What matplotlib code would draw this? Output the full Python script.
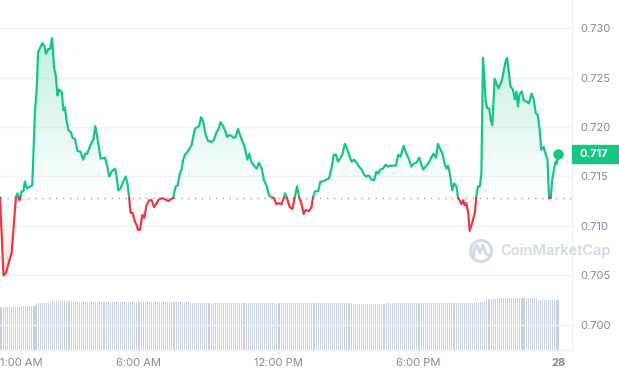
import matplotlib
matplotlib.use('Agg')
import matplotlib.pyplot as plt
import matplotlib.transforms as mtransforms
import numpy as np
from matplotlib.colors import to_rgb
from matplotlib.path import Path
from matplotlib.patches import Circle, Rectangle, PathPatch

plt.rcParams['font.family'] = ['Inter', 'DejaVu Sans']

# price, minutes since midnight
minutes = [5, 14, 20, 35, 46, 50, 55, 61, 65, 69, 74, 88, 95, 99, 103, 114, 119, 123, 129, 134,
           139, 144, 148, 153, 157, 164, 168, 172, 176, 181, 187, 192, 198, 204, 212, 219, 224, 229, 236, 241,
           245, 250, 255, 264, 275, 281, 286, 292, 301, 305, 309, 315, 322, 328, 333, 337, 341, 346, 352, 356,
           360, 365, 371, 376, 382, 389, 395, 401, 408, 414, 423, 429, 438, 444, 450, 457, 462, 468, 472, 476,
           481, 489, 498, 506, 512, 517, 522, 528, 534, 540, 549, 555, 562, 567, 572, 579, 586, 589, 594, 601,
           606, 611, 617, 624, 630, 635, 641, 646, 651, 658, 665, 671, 678, 684, 690, 697, 703, 710, 716, 723,
           729, 735, 738, 743, 750, 757, 763, 769, 774, 780, 786, 791, 800, 806, 810, 815, 823, 829, 836, 845,
           851, 858, 863, 869, 874, 881, 886, 892, 896, 903, 909, 915, 922, 928, 935, 941, 947, 954, 960, 967,
           973, 978, 983, 990, 997, 1003, 1009, 1016, 1023, 1029, 1035, 1043, 1050, 1056, 1063, 1069, 1076, 1083, 1089, 1093,
           1102, 1108, 1115, 1120, 1126, 1131, 1138, 1143, 1149, 1153, 1157, 1162, 1168, 1173, 1179, 1183, 1187, 1192, 1196, 1200,
           1204, 1209, 1213, 1220, 1226, 1230, 1234, 1239, 1243, 1247, 1250, 1254, 1258, 1263, 1267, 1271, 1277, 1282, 1287, 1292,
           1296, 1300, 1305, 1309, 1314, 1318, 1324, 1329, 1333, 1337, 1341, 1347, 1352, 1359, 1365, 1372, 1377, 1383, 1388, 1393,
           1397, 1403, 1408, 1413, 1417, 1421, 1425, 1430, 1434, 1437, 1441]
price = [0.7129, 0.7050, 0.7052, 0.7073, 0.7129, 0.7133, 0.7126, 0.7135, 0.7135, 0.7145,
         0.7138, 0.7141, 0.7217, 0.7236, 0.7276, 0.7285, 0.7282, 0.7274, 0.7279, 0.7279,
         0.7290, 0.7260, 0.7253, 0.7232, 0.7238, 0.7235, 0.7217, 0.7220, 0.7207, 0.7197,
         0.7195, 0.7189, 0.7188, 0.7176, 0.7175, 0.7167, 0.7173, 0.7173, 0.7180, 0.7185,
         0.7187, 0.7201, 0.7190, 0.7168, 0.7169, 0.7160, 0.7150, 0.7155, 0.7158, 0.7150,
         0.7136, 0.7138, 0.7145, 0.7150, 0.7143, 0.7129, 0.7113, 0.7113, 0.7104, 0.7101,
         0.7096, 0.7096, 0.7111, 0.7108, 0.7121, 0.7126, 0.7126, 0.7119, 0.7123, 0.7127,
         0.7128, 0.7127, 0.7125, 0.7127, 0.7128, 0.7140, 0.7141, 0.7154, 0.7157, 0.7167,
         0.7172, 0.7176, 0.7182, 0.7198, 0.7200, 0.7201, 0.7210, 0.7205, 0.7192, 0.7186,
         0.7185, 0.7187, 0.7195, 0.7198, 0.7205, 0.7201, 0.7194, 0.7190, 0.7192, 0.7191,
         0.7189, 0.7190, 0.7198, 0.7190, 0.7184, 0.7179, 0.7167, 0.7173, 0.7165, 0.7161,
         0.7158, 0.7164, 0.7158, 0.7146, 0.7141, 0.7131, 0.7129, 0.7128, 0.7122, 0.7123,
         0.7122, 0.7128, 0.7133, 0.7128, 0.7119, 0.7117, 0.7129, 0.7140, 0.7129, 0.7123,
         0.7112, 0.7116, 0.7115, 0.7119, 0.7129, 0.7135, 0.7135, 0.7145, 0.7145, 0.7147,
         0.7148, 0.7159, 0.7172, 0.7172, 0.7165, 0.7169, 0.7173, 0.7183, 0.7180, 0.7172,
         0.7165, 0.7167, 0.7164, 0.7160, 0.7157, 0.7152, 0.7150, 0.7151, 0.7147, 0.7146,
         0.7155, 0.7153, 0.7157, 0.7158, 0.7162, 0.7160, 0.7161, 0.7161, 0.7161, 0.7172,
         0.7170, 0.7181, 0.7173, 0.7168, 0.7160, 0.7163, 0.7164, 0.7169, 0.7162, 0.7157,
         0.7161, 0.7164, 0.7170, 0.7173, 0.7169, 0.7183, 0.7177, 0.7173, 0.7162, 0.7158,
         0.7161, 0.7153, 0.7136, 0.7143, 0.7140, 0.7128, 0.7126, 0.7122, 0.7126, 0.7121,
         0.7123, 0.7113, 0.7095, 0.7104, 0.7113, 0.7130, 0.7140, 0.7140, 0.7153, 0.7270,
         0.7254, 0.7226, 0.7219, 0.7219, 0.7207, 0.7202, 0.7249, 0.7244, 0.7239, 0.7244,
         0.7248, 0.7256, 0.7266, 0.7270, 0.7254, 0.7241, 0.7238, 0.7228, 0.7236, 0.7221,
         0.7233, 0.7236, 0.7227, 0.7226, 0.7224, 0.7234, 0.7229, 0.7214, 0.7212, 0.7197,
         0.7177, 0.7180, 0.7173, 0.7167, 0.7128, 0.7128, 0.7146, 0.7158, 0.7165, 0.7163,
         0.7173]
base_price = 0.71285   # opening price (dotted line)
last_label = '0.717'

# volume bars every 5 min (USD millions, flat plateaus)
vol_minutes = np.arange(5, 1441, 5)
volume = ([173] * 11 + [177] * 8 + [189] * 8 + [195] * 12 + [191] * 59 + [187] * 62 +
          [188] * 22 + [184] * 17 + [188] * 18 + [187] * 15 + [189] * 13 + [192] * 5 +
          [204] * 6 + [208] * 21 + [201] * 4 + [200] * 7)

tick_minutes = [60, 360, 720, 1080, 1440]
tick_labels = ['1:00 AM', '6:00 AM', '12:00 PM', '6:00 PM', '28']
price_ticks = [0.700, 0.705, 0.710, 0.715, 0.720, 0.725, 0.730]

GREEN = '#16c784'
RED = '#ea3943'
GREY = '#808a9d'
GRID = '#eff2f5'
W, H = 619, 376

fig = plt.figure(figsize=(W / 100, H / 100), dpi=100)
ax = fig.add_axes([0, 1 - 350 / H, 572 / W, 350 / H])
xlim = (5, 1476)
ylim = (0.69744, 0.73286)

# volume on its own scale at the bottom
axv = ax.twinx()
axv.bar(vol_minutes, volume, width=2.6, color='#c9d1e1', linewidth=0, zorder=1)
axv.set_ylim(0, 1400)
axv.set_yticks([])
for s in axv.spines.values():
    s.set_visible(False)

# insert points where the line crosses the opening price
t = np.array(minutes, float)
p = np.array(price)
tt, pp = [t[0]], [p[0]]
for i in range(1, len(t)):
    a, b = p[i - 1] - base_price, p[i] - base_price
    if a * b < 0:
        f = a / (a - b)
        tt.append(t[i - 1] + f * (t[i] - t[i - 1]))
        pp.append(base_price)
    tt.append(t[i])
    pp.append(p[i])
tt = np.array(tt)
pp = np.array(pp)

# gradient fills clipped to the area between line and base
def gradient_fill(mask, color, y0, y1, a0, a1):
    poly = ax.fill_between(tt, pp, base_price, where=mask, interpolate=True,
                           color='none', linewidth=0)
    path = Path.make_compound_path(*poly.get_paths())
    g = np.zeros((256, 1, 4))
    g[..., :3] = to_rgb(color)
    g[:, 0, 3] = np.linspace(a1, a0, 256)
    im = ax.imshow(g, extent=[xlim[0], xlim[1], y0, y1], aspect='auto',
                   origin='upper', zorder=1, interpolation='bilinear')
    im.set_clip_path(path, ax.transData)

gradient_fill(pp >= base_price, GREEN, base_price, 0.7300, 0.0, 0.28)
gradient_fill(pp <= base_price, RED, 0.7040, base_price, 0.16, 0.0)

green = np.ma.masked_where(pp < base_price, pp)
red = np.ma.masked_where(pp > base_price, pp)
ax.plot(tt, green, color=GREEN, lw=1.6, zorder=4, solid_capstyle='round', solid_joinstyle='round')
ax.plot(tt, red, color=RED, lw=1.6, zorder=4, solid_capstyle='round', solid_joinstyle='round')
ax.plot([minutes[-1]], [price[-1]], 'o', color=GREEN, ms=6.5, zorder=5)

ax.axhline(base_price, color='#9aa1b0', lw=1, linestyle=(0, (1, 4)), zorder=3)

ax.set_xlim(*xlim)
ax.set_ylim(*ylim)
ax.set_zorder(axv.get_zorder() + 1)
ax.patch.set_visible(False)

ax.set_yticks(price_ticks)
ax.set_yticklabels(['%.3f' % v for v in price_ticks])
ax.yaxis.tick_right()
ax.tick_params(axis='y', length=0, pad=6, labelsize=8, labelcolor=GREY)
ax.grid(axis='y', color=GRID, lw=1, zorder=0)
ax.set_axisbelow(True)

ax.set_xticks(tick_minutes)
ax.set_xticklabels(tick_labels)
ax.tick_params(axis='x', length=3, width=1, color='#e3e6ec', pad=3, labelsize=8, labelcolor=GREY)
ax.get_xticklabels()[-1].set_fontweight('bold')

for side in ['left', 'top']:
    ax.spines[side].set_visible(False)
for side in ['right', 'bottom']:
    ax.spines[side].set_color(GRID)
    ax.spines[side].set_linewidth(1)

# current price tag
blend = mtransforms.blended_transform_factory(ax.transAxes, ax.transData)
tag_h = 18 / 9880
ax.add_patch(Rectangle((1.0, price[-1] - tag_h / 2 - 0.00007), 50 / 572, tag_h, transform=blend,
                       color=GREEN, clip_on=False, zorder=6))
ax.text(1.0 + 8 / 572, price[-1] - 0.00007, last_label, transform=blend, color='white',
        fontsize=8, fontweight='bold', va='center', ha='left', zorder=7, clip_on=False)

# watermark
pix = mtransforms.Affine2D().scale(1 / W, -1 / H).translate(0, 1) + fig.transFigure
wm = '#d3d9e5'
fig.patches.append(Circle((481, 251), 10.5, transform=pix, fill=False, ec=wm, lw=2.2, zorder=8))
logo = Path([(474, 256), (474, 250), (477, 245), (480, 253), (483, 245), (486, 254), (489, 255)])
fig.patches.append(PathPatch(logo, transform=pix, fill=False, ec=wm, lw=2.0,
                             capstyle='round', joinstyle='round', zorder=8))
fig.text(500 / W, 1 - 251 / H, 'CoinMarketCap', color=wm, fontsize=10.5, fontweight='semibold',
         va='center', ha='left', zorder=8)

fig.savefig('out.png', dpi=100)
